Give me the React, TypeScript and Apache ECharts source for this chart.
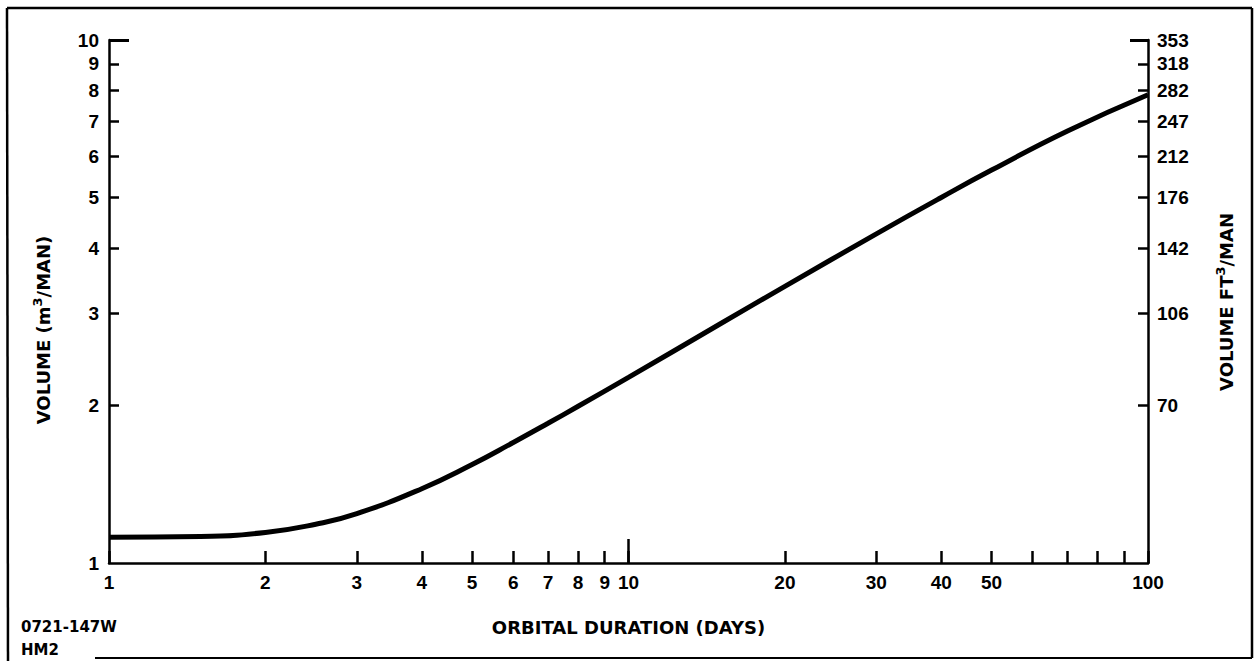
import React, { useEffect, useRef } from "react";
import * as echarts from "echarts";

// Orbital duration (days) vs volume per man (m^3)
const days = [1, 1.5, 2, 2.5, 3, 4, 5, 6, 7, 8, 10, 15, 20, 30, 40, 50, 70, 100];
const volumeM3 = [1.12, 1.124, 1.144, 1.186, 1.243, 1.387, 1.543, 1.7, 1.85, 1.994, 2.264, 2.864, 3.38, 4.26, 5.0, 5.64, 6.7, 7.86];

const xTickValues = [1, 2, 3, 4, 5, 6, 7, 8, 9, 10, 20, 30, 40, 50, 60, 70, 80, 90, 100];
const xLabelValues = [1, 2, 3, 4, 5, 6, 7, 8, 9, 10, 20, 30, 40, 50, 100];
const yTickValues = [2, 3, 4, 5, 6, 7, 8, 9];
const yLabelValues = [1, 2, 3, 4, 5, 6, 7, 8, 9, 10];
const ftTickValues = [2, 3, 4, 5, 6, 7, 8, 9, 10];
const ftLabels = ["70", "106", "142", "176", "212", "247", "282", "318", "353"];

const FONT = "'Liberation Sans', Arial, Helvetica, sans-serif";
const WIDE = "'DejaVu Sans', Verdana, sans-serif";
const labelStyle = { color: "#000", fontSize: 19, fontWeight: "bold" as const, fontFamily: FONT };
const nameStyle = { color: "#000", fontSize: 18, fontWeight: "bold" as const, fontFamily: WIDE };

export default function App() {
  const ref = useRef<HTMLDivElement>(null);

  useEffect(() => {
    if (!ref.current) return;
    const chart = echarts.init(ref.current, undefined, { renderer: "svg" });
    const axisLine = { show: true, lineStyle: { color: "#000", width: 2.5 } };
    const tickLine = { color: "#000", width: 2.5 };
    const rich = {
      n: { fontSize: 18, fontWeight: "bold", fontFamily: WIDE, fill: "#000", lineHeight: 24 },
      s: { fontSize: 13, fontWeight: "bold", fontFamily: WIDE, fill: "#000", verticalAlign: "top", lineHeight: 14 },
    };

    const option: any = {
      animation: false,
      backgroundColor: "#fff",
      grid: { left: 109, right: 109, top: 40, bottom: 98, containLabel: false },
      xAxis: [
        {
          type: "log",
          logBase: 10,
          min: 1,
          max: 100,
          position: "bottom",
          axisLine,
          axisTick: { show: true, inside: true, length: 12, customValues: xTickValues, lineStyle: tickLine },
          axisLabel: { ...labelStyle, margin: 10, customValues: xLabelValues },
          splitLine: { show: false },
          minorTick: { show: false },
          name: "ORBITAL DURATION (DAYS)",
          nameLocation: "middle",
          nameGap: 55,
          nameTextStyle: { ...nameStyle },
        },
        {
          type: "log",
          logBase: 10,
          min: 1,
          max: 100,
          position: "bottom",
          axisLine: { show: false },
          axisTick: { show: true, inside: true, length: 24, customValues: [10], lineStyle: tickLine },
          axisLabel: { show: false },
          splitLine: { show: false },
        },
      ],
      yAxis: [
        {
          type: "log",
          logBase: 10,
          min: 1,
          max: 10,
          position: "left",
          axisLine,
          axisTick: { show: true, inside: true, length: 10, customValues: yTickValues, lineStyle: tickLine },
          axisLabel: { ...labelStyle, margin: 10, customValues: yLabelValues },
          splitLine: { show: false },
        },
        {
          type: "log",
          logBase: 10,
          min: 1,
          max: 10,
          position: "left",
          axisLine: { show: false },
          axisTick: { show: true, inside: true, length: 20, customValues: [10], lineStyle: { color: "#000", width: 3 } },
          axisLabel: { show: false },
          splitLine: { show: false },
        },
        {
          type: "log",
          logBase: 10,
          min: 1,
          max: 10,
          position: "right",
          axisLine,
          axisTick: { show: true, inside: true, length: 10, customValues: ftTickValues.slice(0, 8), lineStyle: tickLine },
          axisLabel: {
            ...labelStyle,
            margin: 9,
            customValues: ftTickValues,
            formatter: (v: number) => {
              const i = ftTickValues.indexOf(Math.round(v));
              return i >= 0 ? ftLabels[i] : "";
            },
          },
          splitLine: { show: false },
        },
        {
          type: "log",
          logBase: 10,
          min: 1,
          max: 10,
          position: "right",
          axisLine: { show: false },
          axisTick: { show: true, inside: true, length: 18, customValues: [10], lineStyle: { color: "#000", width: 3 } },
          axisLabel: { show: false },
          splitLine: { show: false },
        },
      ],
      series: [
        {
          type: "line",
          xAxisIndex: 0,
          yAxisIndex: 0,
          data: days.map((d, i) => [d, volumeM3[i]]),
          smooth: true,
          showSymbol: false,
          symbol: "none",
          lineStyle: { color: "#000", width: 5 },
        },
      ],
      graphic: [
        { type: "line", shape: { x1: 7, y1: 8, x2: 1252, y2: 8 }, style: { stroke: "#000", lineWidth: 2.5 } },
        { type: "line", shape: { x1: 7, y1: 8, x2: 8, y2: 661 }, style: { stroke: "#000", lineWidth: 2.5 } },
        { type: "line", shape: { x1: 1252, y1: 8, x2: 1252, y2: 658 }, style: { stroke: "#000", lineWidth: 2.5 } },
        { type: "line", shape: { x1: 95, y1: 658, x2: 1252, y2: 658 }, style: { stroke: "#000", lineWidth: 2 } },
        {
          type: "text",
          x: 43,
          y: 330,
          rotation: Math.PI / 2,
          style: { text: "{n|VOLUME (m}{s|3}{n|/MAN)}", rich, align: "center", verticalAlign: "middle" },
        },
        {
          type: "text",
          x: 1226,
          y: 302,
          rotation: Math.PI / 2,
          style: { text: "{n|VOLUME FT}{s|3}{n|/MAN}", rich, align: "center", verticalAlign: "middle" },
        },
        {
          type: "text",
          x: 21,
          y: 627,
          style: { text: "0721-147W", align: "left", verticalAlign: "middle", fill: "#000", font: `bold 15px ${WIDE}` },
        },
        {
          type: "text",
          x: 21,
          y: 650,
          style: { text: "HM2", align: "left", verticalAlign: "middle", fill: "#000", font: `bold 15px ${WIDE}` },
        },
      ],
    };

    chart.setOption(option);
    return () => chart.dispose();
  }, []);

  return (
    <div
      ref={ref}
      style={{ position: "fixed", left: 0, top: 0, width: 1257, height: 661, background: "#fff" }}
    />
  );
}
